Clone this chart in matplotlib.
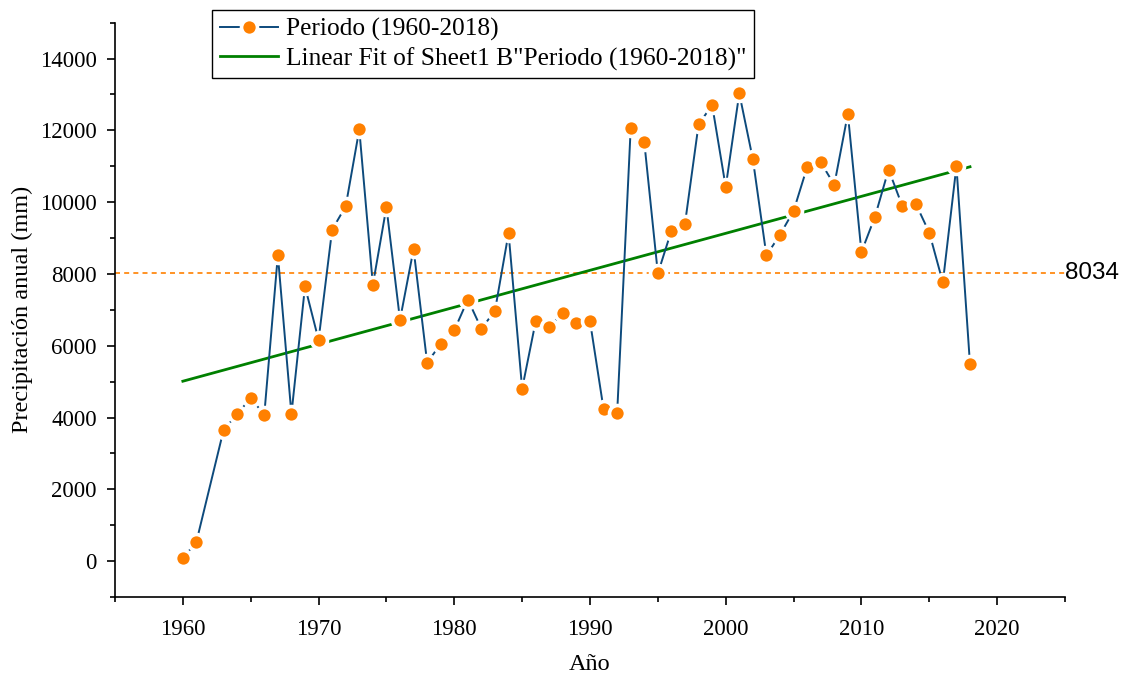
import numpy as np
import matplotlib
matplotlib.use("Agg")
import matplotlib.pyplot as plt
from matplotlib.ticker import MultipleLocator
import matplotlib.transforms as mtransforms

years = [1960, 1961, 1963, 1964, 1965, 1966, 1967, 1968, 1969, 1970,
         1971, 1972, 1973, 1974, 1975, 1976, 1977, 1978, 1979, 1980,
         1981, 1982, 1983, 1984, 1985, 1986, 1987, 1988, 1989, 1990,
         1991, 1992, 1993, 1994, 1995, 1996, 1997, 1998, 1999, 2000,
         2001, 2002, 2003, 2004, 2005, 2006, 2007, 2008, 2009, 2010,
         2011, 2012, 2013, 2014, 2015, 2016, 2017, 2018]
precip = [75, 540, 3650, 4096, 4543, 4077, 8527, 4096, 7651, 6163,
          9234, 9886, 12026, 7698, 9866, 6721, 8694, 5529, 6051, 6430,
          7288, 6470, 6981, 9141, 4803, 6683, 6516, 6925, 6646, 6683,
          4236, 4114, 12073, 11673, 8014, 9206, 9402, 12166, 12706, 10425,
          13031, 11198, 8517, 9094, 9755, 10975, 11114, 10481, 12464, 8610,
          9597, 10910, 9905, 9960, 9151, 7763, 11002, 5482]
mean_value = 8034
series_label = "Periodo (1960-2018)"
fit_label = 'Linear Fit of Sheet1 B"Periodo (1960-2018)"'
xlabel = "Año"
ylabel = "Precipitación anual (mm)"

serif = ["Liberation Serif", "DejaVu Serif"]
plt.rcParams['font.family'] = serif

fig = plt.figure(figsize=(11.26, 6.74), dpi=100)
ax = fig.add_axes([115/1126, 1-597/674, (1065-115)/1126, (597-22.7)/674])

x = np.array(years, dtype=float)
y = np.array(precip, dtype=float)

line_color = "#0d4a7c"
orange = "#ff8000"

ax.axhline(mean_value, color=orange, lw=1.2, ls=(0, (3, 2.5)), zorder=1)

ln, = ax.plot(x, y, color=line_color, lw=1.4, marker="o", ms=11.5,
              mfc=orange, mec="white", mew=2.6, zorder=3, label=series_label)

coef = np.polyfit(x, y, 1)
xf = np.array([x.min(), x.max()])
fl, = ax.plot(xf, np.polyval(coef, xf), color="#008000", lw=2.0, zorder=2,
              label=fit_label)

ax.set_xlim(1955, 2025)
ax.set_ylim(-1000, 15000)
ax.xaxis.set_major_locator(MultipleLocator(10))
ax.xaxis.set_minor_locator(MultipleLocator(5))
ax.yaxis.set_major_locator(MultipleLocator(2000))
ax.yaxis.set_minor_locator(MultipleLocator(1000))

for s in ["top", "right"]:
    ax.spines[s].set_visible(False)
for s in ["left", "bottom"]:
    ax.spines[s].set_linewidth(1.2)

ax.tick_params(which="major", direction="out", length=6, width=1.2,
               labelsize=16.5, pad=7)
ax.tick_params(which="minor", direction="out", length=3.5, width=1.2)
ax.tick_params(axis="x", which="major", pad=10)

ax.set_xlabel(xlabel, fontsize=17.5, labelpad=10)
ax.set_ylabel(ylabel, fontsize=17.5, labelpad=5)

trans = mtransforms.blended_transform_factory(ax.transAxes, ax.transData)
ax.text(1.0, mean_value, str(mean_value), transform=trans, ha="left",
        va="center", fontsize=17.5, family=["Liberation Sans", "DejaVu Sans"])

leg = fig.legend(handles=[ln, fl], loc="upper left",
                 bbox_to_anchor=(212/1126, 1-10/674),
                 fontsize=18.3, frameon=True, fancybox=False, framealpha=1,
                 edgecolor="black", borderpad=0.3, labelspacing=0.25,
                 handlelength=2.3, handletextpad=0.3, borderaxespad=0)
leg.get_frame().set_linewidth(1.0)

fig.savefig("out.png", dpi=100)
